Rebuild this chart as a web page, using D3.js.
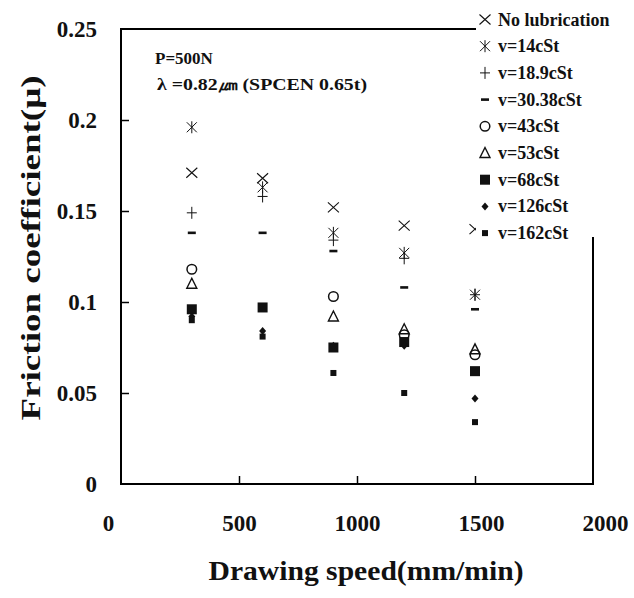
<!DOCTYPE html>
<html>
<head>
<meta charset="utf-8">
<script src="https://cdn.jsdelivr.net/npm/d3@7"></script>
<style>
  body { margin: 0; background: #fff; }
  svg text { font-family: "Liberation Serif", "Times New Roman", serif; font-weight: bold; fill: #111; }
</style>
</head>
<body>
<div id="chart"></div>
<script>
// drawing speed (mm/min) at which friction was measured
var speeds = [300, 600, 900, 1200, 1500];
var seriesNames = ["No lubrication", "v=14cSt", "v=18.9cSt", "v=30.38cSt", "v=43cSt",
                   "v=53cSt", "v=68cSt", "v=126cSt", "v=162cSt"];
var noLub   = [0.171, 0.168, 0.152, 0.142, 0.140];
var nu14    = [0.196, 0.163, 0.138, 0.127, 0.104];
var nu18_9  = [0.149, 0.158, 0.134, 0.124, 0.104];
var nu30_38 = [0.138, 0.138, 0.128, 0.108, 0.096];
var nu43    = [0.118, null, 0.103, 0.082, 0.071];
var nu53    = [0.110, null, 0.092, 0.085, 0.074];
var nu68    = [0.096, 0.097, 0.075, 0.078, 0.062];
var nu126   = [0.092, 0.084, 0.076, 0.076, 0.047];
var nu162   = [0.090, 0.081, 0.061, 0.050, 0.034];
var xTicks = [0, 500, 1000, 1500, 2000];
var yTicks = [0, 0.05, 0.1, 0.15, 0.2, 0.25];
var annot1 = "P=500N";
var annot2 = "\u03bb =0.82\u339b  (SPCEN 0.65t)";

var allSeries = [noLub, nu14, nu18_9, nu30_38, nu43, nu53, nu68, nu126, nu162];
var kinds = ["x", "asterisk", "plus", "dash", "circle", "triangle", "square", "diamond", "small"];

var W = 634, H = 598;
var plotL = 121, plotR = 593, plotT = 29, plotB = 484;

var svg = d3.select("#chart").append("svg")
	.attr("width", W)
	.attr("height", H);

var x = d3.scaleLinear().domain([0, 2000]).range([plotL, plotR]);
var y = d3.scaleLinear().domain([0, 0.25]).range([plotB, plotT]);

// frame first, everything else on top
svg.append("path")
	.attr("d", "M" + plotL + "," + plotT + "H" + plotR + "V" + plotB + "H" + plotL + "Z")
	.attr("fill", "none")
	.attr("stroke", "#000")
	.attr("stroke-width", 2);

// axes, ticks pointing into the plot
var xAxis = d3.axisBottom(x).tickValues(xTicks).tickSizeInner(-8).tickSizeOuter(0).tickPadding(31)
	.tickFormat(d3.format("d"));
var yAxis = d3.axisLeft(y).tickValues(yTicks).tickSizeInner(-8).tickSizeOuter(0).tickPadding(24)
	.tickFormat(function(d){ return d === 0 ? "0" : String(d); });

var gx = svg.append("g").attr("transform", "translate(0," + plotB + ")").call(xAxis);
var gy = svg.append("g").attr("transform", "translate(" + plotL + ",0)").call(yAxis);
[gx, gy].forEach(function(g){
	g.select(".domain").remove();
	g.selectAll(".tick line").attr("stroke", "#000").attr("stroke-width", 1.5);
	g.selectAll(".tick text").style("font-size", "23px").attr("fill", "#111")
		.style("font-family", '"Liberation Serif", serif').style("font-weight", "bold");
});
// end labels in the scan sit a little outside the frame corners
gx.selectAll(".tick text").attr("dx", function(d){ return d === 0 ? -13 : (d === 2000 ? 12 : (d === 1500 ? 6 : 0)); });
gx.selectAll(".tick line").filter(function(d){ return d === 0 || d === 2000; }).remove();
gy.selectAll(".tick line").filter(function(d){ return d === 0 || d === 0.25; }).remove();

function markerPath(kind)
{
	var p = d3.path();
	if (kind == "x") {
		p.moveTo(-5.5, -5); p.lineTo(5.5, 5);
		p.moveTo(-5.5, 5); p.lineTo(5.5, -5);
	} else if (kind == "asterisk") {
		p.moveTo(-5, -5); p.lineTo(5, 5);
		p.moveTo(-5, 5); p.lineTo(5, -5);
		p.moveTo(0, -6); p.lineTo(0, 6);
	} else if (kind == "plus") {
		p.moveTo(-5, 0); p.lineTo(5, 0);
		p.moveTo(0, -6); p.lineTo(0, 6);
	} else if (kind == "triangle") {
		p.moveTo(0, -5.5); p.lineTo(5, 4.5); p.lineTo(-5, 4.5); p.closePath();
	} else if (kind == "diamond") {
		p.moveTo(0, -4); p.lineTo(3.5, 0); p.lineTo(0, 4); p.lineTo(-3.5, 0); p.closePath();
	}
	return p.toString();
}

function drawMarker(g, kind)
{
	if (kind == "circle") {
		g.append("circle").attr("r", 4.8).attr("fill", "none").attr("stroke", "#111").attr("stroke-width", 1.5);
	} else if (kind == "dash") {
		g.append("rect").attr("x", -4).attr("y", -1.3).attr("width", 8).attr("height", 2.6).attr("fill", "#111");
	} else if (kind == "square") {
		g.append("rect").attr("x", -5).attr("y", -5).attr("width", 10).attr("height", 10).attr("fill", "#111");
	} else if (kind == "small") {
		g.append("rect").attr("x", -3).attr("y", -3).attr("width", 6).attr("height", 6).attr("fill", "#111");
	} else if (kind == "diamond") {
		g.append("path").attr("d", markerPath(kind)).attr("fill", "#111");
	} else if (kind == "triangle") {
		g.append("path").attr("d", markerPath(kind)).attr("fill", "none").attr("stroke", "#111").attr("stroke-width", 1.4);
	} else {
		g.append("path").attr("d", markerPath(kind)).attr("fill", "none").attr("stroke", "#111")
			.attr("stroke-width", kind == "x" ? 1.1 : 1);
	}
}

// data points
allSeries.forEach(function(vals, i){
	var pts = speeds.map(function(s, j){ return {s: s, v: vals[j]}; })
		.filter(function(d){ return d.v != null; });
	svg.append("g").selectAll("g")
		.data(pts)
		.enter().append("g")
		.attr("transform", function(d){ return "translate(" + x(d.s) + "," + y(d.v) + ")"; })
		.each(function(){ drawMarker(d3.select(this), kinds[i]); });
});

// legend (white box covers the corner of the frame)
var legX = 476, rowH = 26.7;
svg.append("rect").attr("x", legX).attr("y", 0).attr("width", W - legX).attr("height", 237).attr("fill", "#fff");
seriesNames.forEach(function(name, i){
	var cy = 19.5 + i * rowH;
	var g = svg.append("g").attr("transform", "translate(" + (legX + 9) + "," + cy + ")");
	drawMarker(g, kinds[i]);
	svg.append("text").attr("x", legX + 22).attr("y", cy + 6)
		.style("font-size", "18px").text(name);
});

// annotations
svg.append("text").attr("x", 155).attr("y", 64).style("font-size", "17px").text(annot1);
svg.append("text").attr("x", 157).attr("y", 90).style("font-size", "17px")
	.attr("textLength", 210).attr("lengthAdjust", "spacingAndGlyphs").text(annot2);

// axis titles
svg.append("text")
	.attr("x", 366).attr("y", 580)
	.attr("text-anchor", "middle")
	.attr("textLength", 315).attr("lengthAdjust", "spacingAndGlyphs")
	.style("font-size", "28px")
	.text("Drawing speed(mm/min)");
svg.append("text")
	.attr("transform", "translate(40,248) rotate(-90)")
	.attr("text-anchor", "middle")
	.attr("textLength", 345).attr("lengthAdjust", "spacingAndGlyphs")
	.style("font-size", "28px")
	.text("Friction coefficient(\u03bc)");
</script>
</body>
</html>
